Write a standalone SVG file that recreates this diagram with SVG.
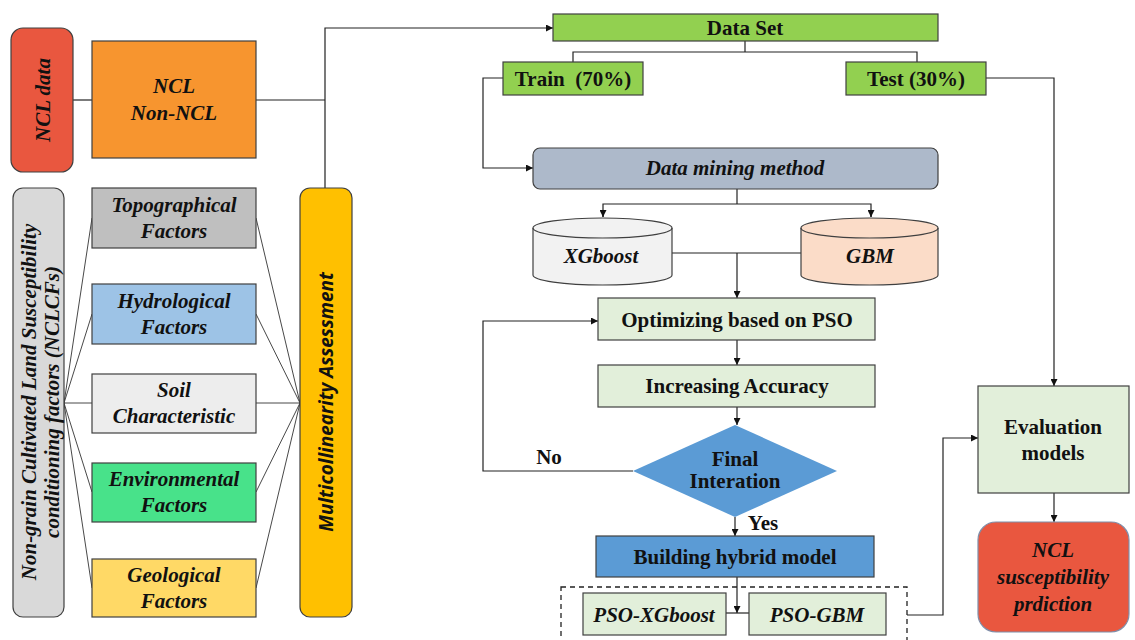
<svg xmlns="http://www.w3.org/2000/svg" width="1135" height="640" viewBox="0 0 1135 640">
  <defs>
    <marker id="arr" viewBox="0 0 10 10" refX="10" refY="5" markerWidth="7" markerHeight="7" markerUnits="userSpaceOnUse" orient="auto">
      <path d="M0,0 L10,5 L0,10 z" fill="#111"/>
    </marker>
    <style>
      .box { stroke: #404040; stroke-width: 1.2; }
      .ln { fill: none; stroke: #222; stroke-width: 1.2; }
      .thin { fill: none; stroke: #333; stroke-width: 0.9; }
      .ser { font-family: "Liberation Serif", "Times New Roman", serif; font-weight: bold; fill: #111; text-anchor: middle; font-size: 21px; }
      .it { font-style: italic; }
      .sans { font-family: "Open Sans", "Liberation Sans", sans-serif; font-weight: bold; font-style: italic; fill: #111; text-anchor: middle; }
    </style>
  </defs>

  <rect width="1135" height="640" fill="#ffffff"/>

  <!-- connectors -->
  <g id="connectors">
    <!-- NCL data to labels -->
    <line class="ln" x1="73" y1="100" x2="92" y2="100"/>
    <line class="ln" x1="256" y1="100" x2="325" y2="100"/>
    <polyline class="ln" points="325,188 325,28 553,28" marker-end="url(#arr)"/>
    <!-- factor fan: left category box -->
    <line class="thin" x1="64" y1="403" x2="92" y2="218"/>
    <line class="thin" x1="64" y1="403" x2="92" y2="314"/>
    <line class="thin" x1="64" y1="403" x2="92" y2="403"/>
    <line class="thin" x1="64" y1="403" x2="92" y2="492"/>
    <line class="thin" x1="64" y1="403" x2="92" y2="588"/>
    <!-- factor fan: multicollinearity -->
    <line class="thin" x1="256" y1="218" x2="300" y2="403"/>
    <line class="thin" x1="256" y1="314" x2="300" y2="403"/>
    <line class="thin" x1="256" y1="403" x2="300" y2="403"/>
    <line class="thin" x1="256" y1="492" x2="300" y2="403"/>
    <line class="thin" x1="256" y1="588" x2="300" y2="403"/>
    <!-- data split -->
    <polyline class="ln" points="745,41 745,52"/>
    <polyline class="ln" points="573,62 573,52 917,52 917,62"/>
    <!-- train to data mining -->
    <polyline class="ln" points="503,78 483,78 483,168 533,168" marker-end="url(#arr)"/>
    <!-- test to evaluation -->
    <polyline class="ln" points="986,78 1054,78 1054,386" marker-end="url(#arr)"/>
    <!-- data mining to models -->
    <line class="ln" x1="737" y1="189" x2="737" y2="204"/>
    <polyline class="ln" points="603,217 603,204 871,204 871,217" />
    <line class="ln" x1="603" y1="210" x2="603" y2="217" marker-end="url(#arr)"/>
    <line class="ln" x1="871" y1="210" x2="871" y2="217" marker-end="url(#arr)"/>
    <line class="ln" x1="672" y1="253" x2="801" y2="253"/>
    <line class="ln" x1="737" y1="253" x2="737" y2="298" marker-end="url(#arr)"/>
    <!-- optimisation loop -->
    <line class="ln" x1="737" y1="340" x2="737" y2="365" marker-end="url(#arr)"/>
    <line class="ln" x1="737" y1="407" x2="737" y2="425" marker-end="url(#arr)"/>
    <polyline class="ln" points="633,471 483,471 483,321 598,321" marker-end="url(#arr)"/>
    <line class="ln" x1="735" y1="517" x2="735" y2="536" marker-end="url(#arr)"/>
    <!-- hybrid models -->
    <line class="ln" x1="737" y1="577" x2="737" y2="613" marker-end="url(#arr)"/>
    <line class="ln" x1="726" y1="613" x2="749" y2="613"/>
    <polyline class="ln" points="907,615 943,615 943,438 978,438" marker-end="url(#arr)"/>
    <!-- evaluation to prediction -->
    <line class="ln" x1="1054" y1="493" x2="1054" y2="522" marker-end="url(#arr)"/>
  </g>

  <!-- left column -->
  <g id="ncl-data">
    <rect class="box" x="11" y="28" width="62" height="144" rx="12" fill="#e9573f"/>
    <text class="ser it" transform="translate(50,100) rotate(-90)">NCL data</text>
  </g>
  <g id="ncl-classes">
    <rect class="box" x="92" y="41" width="164" height="117" fill="#f7952f"/>
    <text class="ser it" x="174" y="93">NCL</text>
    <text class="ser it" x="174" y="120">Non-NCL</text>
  </g>
  <g id="nclcfs">
    <rect class="box" x="13" y="188" width="51" height="429" rx="10" fill="#d9d9d9"/>
    <text class="ser it" transform="translate(36,402) rotate(-90)">Non-grain Cultivated Land Susceptibility</text>
    <text class="ser it" transform="translate(59,402) rotate(-90)">conditioning factors (NCLCFs)</text>
  </g>
  <g id="topographical">
    <rect class="box" x="92" y="188" width="164" height="60" fill="#bfbfbf"/>
    <text class="ser it" x="174" y="212">Topographical</text>
    <text class="ser it" x="174" y="238">Factors</text>
  </g>
  <g id="hydrological">
    <rect class="box" x="92" y="284" width="164" height="60" fill="#9dc3e6"/>
    <text class="ser it" x="174" y="308">Hydrological</text>
    <text class="ser it" x="174" y="334">Factors</text>
  </g>
  <g id="soil">
    <rect class="box" x="92" y="374" width="164" height="59" fill="#ededed"/>
    <text class="ser it" x="174" y="397">Soil</text>
    <text class="ser it" x="174" y="423">Characteristic</text>
  </g>
  <g id="environmental">
    <rect class="box" x="92" y="463" width="164" height="59" fill="#48e28a"/>
    <text class="ser it" x="174" y="486">Environmental</text>
    <text class="ser it" x="174" y="512">Factors</text>
  </g>
  <g id="geological">
    <rect class="box" x="92" y="559" width="164" height="58" fill="#ffd966"/>
    <text class="ser it" x="174" y="582">Geological</text>
    <text class="ser it" x="174" y="608">Factors</text>
  </g>
  <g id="multicollinearity">
    <rect class="box" x="300" y="188" width="52" height="429" rx="10" fill="#ffc000"/>
    <text class="sans" font-size="19" transform="translate(333,402) rotate(-90)">Multicollinearity Assessment</text>
  </g>

  <!-- data split -->
  <g id="data-set">
    <rect class="box" x="553" y="14" width="385" height="27" fill="#92d050"/>
    <text class="ser" font-size="18.5" x="745" y="35">Data Set</text>
  </g>
  <g id="train">
    <rect class="box" x="503" y="62" width="140" height="33" fill="#92d050"/>
    <text class="ser" font-size="18.5" x="573" y="86" xml:space="preserve">Train  (70%)</text>
  </g>
  <g id="test">
    <rect class="box" x="846" y="62" width="140" height="33" fill="#92d050"/>
    <text class="ser" font-size="18.5" x="916" y="86">Test (30%)</text>
  </g>

  <!-- modelling -->
  <g id="data-mining">
    <rect class="box" x="533" y="148" width="405" height="41" rx="7" fill="#adb9ca"/>
    <text class="ser it" x="735" y="175">Data mining method</text>
  </g>
  <g id="xgboost">
    <path class="box" d="M533,228 L533,275 A69.5,10 0 0 0 672,275 L672,228 A69.5,10 0 0 0 533,228 Z" fill="#f2f2f2"/>
    <path class="box" d="M533,228 A69.5,10 0 0 0 672,228" fill="none"/>
    <text class="ser it" x="601" y="263">XGboost</text>
  </g>
  <g id="gbm">
    <path class="box" d="M801,228 L801,275 A68.5,10 0 0 0 938,275 L938,228 A68.5,10 0 0 0 801,228 Z" fill="#fbdcc8"/>
    <path class="box" d="M801,228 A68.5,10 0 0 0 938,228" fill="none"/>
    <text class="ser it" x="870" y="263">GBM</text>
  </g>
  <g id="optimizing">
    <rect class="box" x="598" y="298" width="277" height="42" fill="#e2efda"/>
    <text class="ser" x="737" y="327">Optimizing based on PSO</text>
  </g>
  <g id="accuracy">
    <rect class="box" x="598" y="365" width="277" height="42" fill="#e2efda"/>
    <text class="ser" x="737" y="393">Increasing Accuracy</text>
  </g>
  <g id="final-iteration">
    <polygon points="735,425 837,471 735,517 633,471" fill="#5b9bd5"/>
    <text class="ser" font-size="16" x="735" y="466">Final</text>
    <text class="ser" font-size="16" x="735" y="488">Interation</text>
  </g>
  <text class="ser" font-size="18" x="549" y="464">No</text>
  <text class="ser" font-size="18" x="763" y="530">Yes</text>
  <g id="hybrid">
    <rect class="box" x="596" y="536" width="278" height="41" fill="#5b9bd5"/>
    <text class="ser" x="735" y="564">Building hybrid model</text>
  </g>
  <g id="hybrid-models">
    <rect x="561" y="587" width="346" height="70" fill="none" stroke="#222" stroke-width="1.3" stroke-dasharray="5,4"/>
    <rect class="box" x="583" y="593" width="143" height="42" fill="#e2efda"/>
    <text class="ser it" x="654" y="622">PSO-XGboost</text>
    <rect class="box" x="749" y="593" width="137" height="42" fill="#e2efda"/>
    <text class="ser it" x="817" y="622">PSO-GBM</text>
  </g>

  <!-- evaluation -->
  <g id="evaluation">
    <rect class="box" x="978" y="386" width="151" height="107" fill="#e2efda"/>
    <text class="ser" x="1053" y="434">Evaluation</text>
    <text class="ser" x="1053" y="460">models</text>
  </g>
  <g id="prediction">
    <rect x="978" y="522" width="151" height="110" rx="18" fill="#e9573f" stroke="#7f8faa" stroke-width="1.2"/>
    <text class="ser it" x="1053" y="557">NCL</text>
    <text class="ser it" x="1053" y="584">susceptibility</text>
    <text class="ser it" x="1053" y="611">prdiction</text>
  </g>
</svg>
